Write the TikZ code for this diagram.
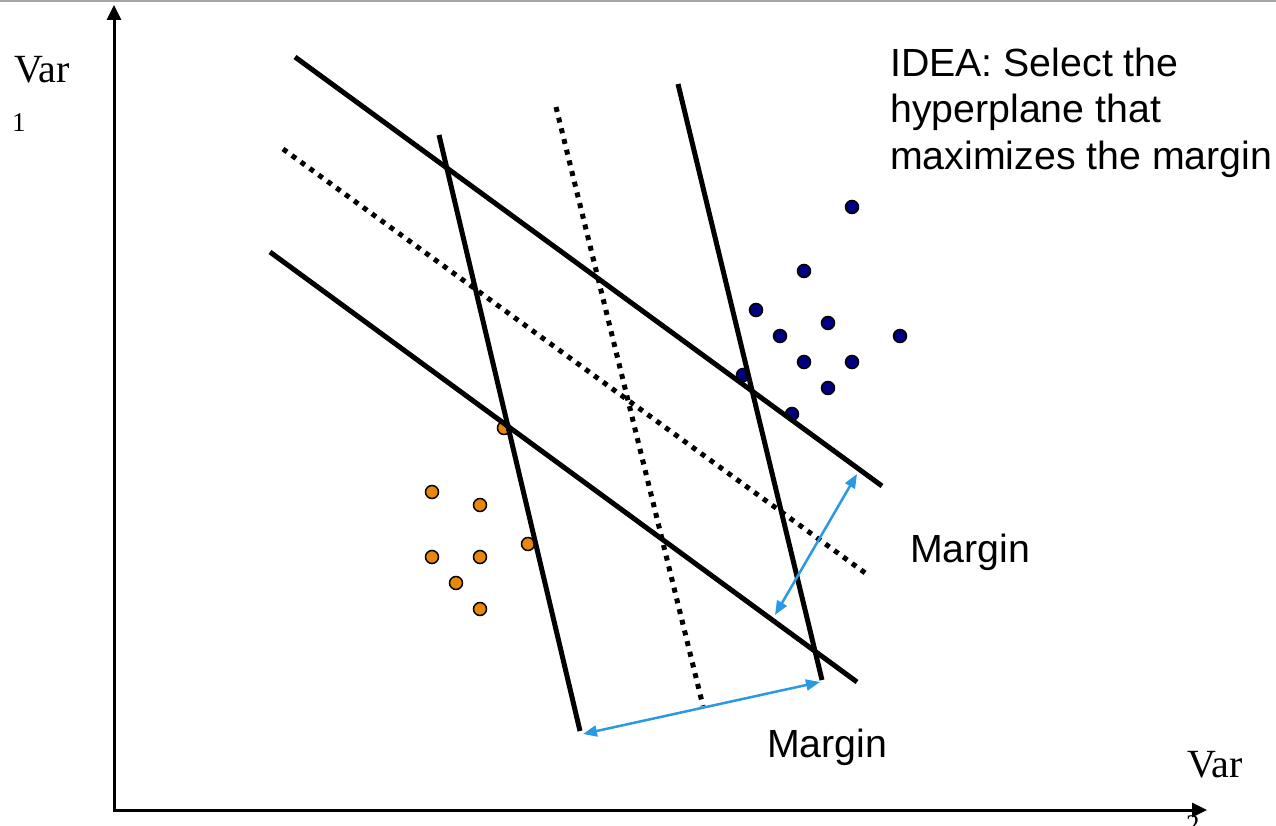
\documentclass[tikz,border=0pt]{standalone}
\usepackage{fontspec}
\setmainfont{Liberation Serif}
\setsansfont{Liberation Sans}
\usetikzlibrary{arrows.meta}
\definecolor{marginblue}{RGB}{42,152,226}
\definecolor{dotorange}{RGB}{232,135,14}
\definecolor{dotnavy}{RGB}{0,0,128}
\definecolor{topgray}{RGB}{165,165,165}
\begin{document}
\begin{tikzpicture}[x=1pt,y=-1pt,
  hyper/.style={line width=5pt},
  hyperdots/.style={line width=5pt, dash pattern=on 5pt off 6pt},
  marginarrow/.style={marginblue, line width=2.5pt,
    {Triangle[length=14pt,width=11pt]}-{Triangle[length=14pt,width=11pt]}},
  axisline/.style={line width=3pt,
    {Triangle[length=15pt,width=14pt]}-{Triangle[length=15pt,width=14pt]}},
  dotbase/.style={circle, draw=black, line width=1.5pt, minimum size=13pt, inner sep=0pt},
  odot/.style={dotbase, fill=dotorange},
  bdot/.style={dotbase, fill=dotnavy},
  sanslabel/.style={font=\fontsize{39.3}{46.5}\selectfont\sffamily, inner sep=0pt, align=left},
  serlabel/.style={font=\fontsize{40}{48}\selectfont, inner sep=0pt, anchor=base west},
  subl/.style={font=\fontsize{27}{32}\selectfont, inner sep=0pt, anchor=base west},
]
\useasboundingbox (0,0) rectangle (1276,826);
\clip (0,0) rectangle (1276,826);
\fill[topgray] (0,0) rectangle (1276,2.2);

% data points
\foreach \x/\y [count=\i] in {504/428,432/492,480/505,528/544,432/557,480/557,456/583,480/609}
  \node[odot] (o\i) at (\x,\y) {};
\foreach \x/\y [count=\i] in {852/207,804/271,756/310,828/323,780/336,900/336,804/362,852/362,828/388,743/375,792/414}
  \node[bdot] (b\i) at (\x,\y) {};

% hyperplanes
\coordinate (a1) at (295,57);  \coordinate (a2) at (882,486);
\coordinate (m1) at (283,149); \coordinate (m2) at (868,575);
\coordinate (c1) at (270,252); \coordinate (c2) at (857,682);
\coordinate (p1) at (439,135); \coordinate (p2) at (580,731);
\coordinate (q1) at (556,107); \coordinate (q2) at (703,706);
\coordinate (r1) at (678,84);  \coordinate (r2) at (822,680);
\draw[hyper] (a1) -- (a2);
\draw[hyperdots] (m1) -- (m2);
\draw[hyper] (c1) -- (c2);
\draw[hyper] (p1) -- (p2);
\draw[hyperdots] (q1) -- (q2);
\draw[hyper] (r1) -- (r2);

% margin arrows
\coordinate (s1) at (583,734); \coordinate (s2) at (820,682);
\coordinate (t1) at (857,474); \coordinate (t2) at (775,615);
\draw[marginarrow] (s1) -- (s2);
\draw[marginarrow] (t1) -- (t2);

% axes
\coordinate (O) at (114,810);
\coordinate (ytip) at (114,5);
\coordinate (xtip) at (1207,810);
\draw[axisline] (ytip) -- (O) -- (xtip);

% labels
\node[serlabel] (v1) at (14,83) {Var};
\node[subl] (v1s) at (12,132) {1};
\node[serlabel] (v2) at (1187,777) {Var};
\node[subl] (v2s) at (1186,833) {2};
\node[sanslabel, anchor=north west] (idea) at (890,47.5) {IDEA: Select the\\hyperplane that\\maximizes the margin};
\node[sanslabel, anchor=base west] (mg1) at (910,562) {Margin};
\node[sanslabel, anchor=base west] (mg2) at (767,757) {Margin};
\end{tikzpicture}
\end{document}
